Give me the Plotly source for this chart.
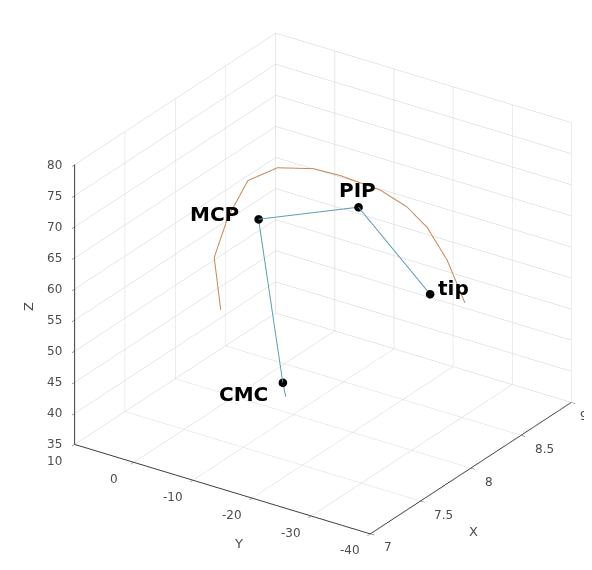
import plotly.graph_objects as go

# joint positions
joint_names = ["CMC", "MCP", "PIP", "tip"]
joint_x = [8.0, 8.0, 8.0, 8.0]
joint_y = [-8.2, -4.1, -21.0, -33.1]
joint_z = [39.6, 64.7, 71.5, 61.0]

# cyan chain (starts slightly below CMC)
chain_x = [8.0, 8.0, 8.0, 8.0, 8.0]
chain_y = [-8.7, -8.2, -4.1, -21.0, -33.1]
chain_z = [37.5, 39.6, 64.7, 71.5, 61.0]

# orange trajectory arc
arc_x = [8.0] * 13
arc_y = [2.3, 3.4, 1.1, -2.3, -7.3, -13.4, -17.9, -24.7, -29.2, -32.6, -36.0, -37.6, -39.0]
arc_z = [48.3, 56.4, 63.5, 70.4, 73.9, 75.5, 75.7, 75.3, 73.9, 71.6, 67.3, 64.1, 61.3]

x_ticks = [7, 7.5, 8, 8.5, 9]
y_ticks = [-40, -30, -20, -10, 0, 10]
z_ticks = [35, 40, 45, 50, 55, 60, 65, 70, 75, 80]

XR = [7, 9]
YR = [-40, 10]
ZR = [35, 80]

FONT = "DejaVu Sans, Liberation Sans, Arial"
TICKC = "#4d4d4d"
EPS = 1e-4


def inside(v, r):
    # keep annotation anchors strictly inside the axis range
    return min(max(v, r[0] + (r[1] - r[0]) * EPS), r[1] - (r[1] - r[0]) * EPS)


fig = go.Figure()
fig.add_trace(go.Scatter3d(x=arc_x, y=arc_y, z=arc_z, mode="lines",
                           line=dict(color="#c8875a", width=2), showlegend=False, hoverinfo="skip"))
fig.add_trace(go.Scatter3d(x=chain_x, y=chain_y, z=chain_z, mode="lines",
                           line=dict(color="#5b9db3", width=2), showlegend=False, hoverinfo="skip"))
fig.add_trace(go.Scatter3d(x=joint_x, y=joint_y, z=joint_z, mode="markers",
                           marker=dict(color="black", size=5),
                           showlegend=False, hoverinfo="skip"))

axis_common = dict(
    showbackground=False,
    gridcolor="#d0d0d0",
    gridwidth=1,
    showline=True,
    linecolor="#3c3c3c",
    linewidth=2,
    zeroline=False,
    ticks="outside",
    ticklen=5,
    tickcolor="#3c3c3c",
    showticklabels=False,
    showspikes=False,
    title=dict(text=""),
)

annotations = []
# joint labels (offset in pixels from each joint)
label_style = {
    "CMC": dict(xanchor="right", xshift=-13, yshift=-12),
    "MCP": dict(xanchor="right", xshift=-17, yshift=5),
    "PIP": dict(xanchor="center", xshift=-1, yshift=17),
    "tip": dict(xanchor="left", xshift=6, yshift=6),
}
for n, x, y, z in zip(joint_names, joint_x, joint_y, joint_z):
    annotations.append(dict(x=x, y=y, z=z, text="<b>" + n + "</b>", showarrow=False,
                            font=dict(family=FONT, size=20, color="black"), **label_style[n]))
for v in z_ticks:
    annotations.append(dict(x=inside(XR[0], XR), y=inside(YR[1], YR), z=inside(v, ZR), text=str(v),
                            showarrow=False, xanchor="right", xshift=-11, yshift=0,
                            font=dict(family=FONT, size=12, color=TICKC)))
for v in y_ticks:
    annotations.append(dict(x=inside(XR[0], XR), y=inside(v, YR), z=inside(ZR[0], ZR), text=str(v),
                            showarrow=False, xanchor="center", xshift=-20, yshift=-17,
                            font=dict(family=FONT, size=12, color=TICKC)))
for v in x_ticks:
    annotations.append(dict(x=inside(v, XR), y=inside(YR[0], YR), z=inside(ZR[0], ZR), text=str(v),
                            showarrow=False, xanchor="left", xshift=12 if v < XR[1] else 7, yshift=-14,
                            font=dict(family=FONT, size=12, color=TICKC)))
annotations.append(dict(x=XR[0], y=YR[1], z=(ZR[0] + ZR[1]) / 2, text="Z", showarrow=False,
                        textangle=-90, xshift=-46, yshift=-2,
                        font=dict(family=FONT, size=13, color=TICKC)))
annotations.append(dict(x=XR[0], y=(YR[0] + YR[1]) / 2, z=ZR[0], text="Y", showarrow=False,
                        xshift=16, yshift=-55,
                        font=dict(family=FONT, size=13, color=TICKC)))
annotations.append(dict(x=(XR[0] + XR[1]) / 2, y=YR[0], z=ZR[0], text="X", showarrow=False,
                        xshift=3, yshift=-64,
                        font=dict(family=FONT, size=13, color=TICKC)))

m = 1.756
k = 1.009
fig.update_layout(
    width=592, height=570,
    margin=dict(l=0, r=0, t=0, b=0),
    paper_bgcolor="white",
    scene=dict(
        domain=dict(x=[0.064, 1.0], y=[0.034, 1.0]),
        xaxis=dict(axis_common, range=XR, tickvals=x_ticks),
        yaxis=dict(axis_common, range=YR, tickvals=y_ticks),
        zaxis=dict(axis_common, range=ZR, tickvals=z_ticks),
        aspectmode="manual",
        aspectratio=dict(x=1.286 * k, y=1.286 * k, z=1.124 * k),
        camera=dict(eye=dict(x=-0.741 * m, y=-0.504 * m, z=0.445 * m),
                    center=dict(x=0, y=0, z=0), up=dict(x=0, y=0, z=1),
                    projection=dict(type="orthographic")),
        bgcolor="white",
        annotations=annotations,
    ),
)

fig.write_html("out.html")
